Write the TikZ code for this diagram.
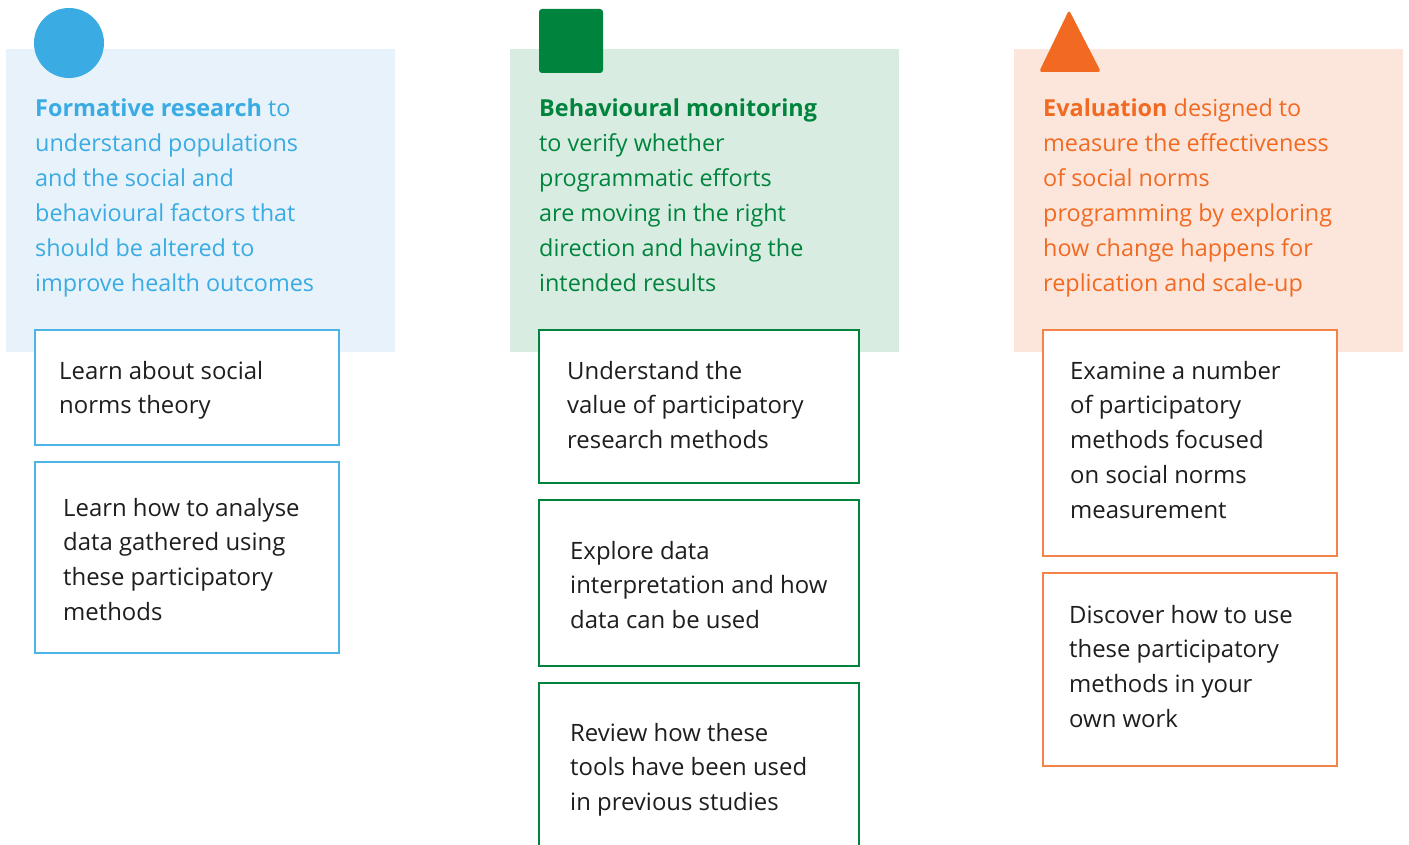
\documentclass[tikz,border=0pt]{standalone}
\usepackage{fontspec}
\setmainfont{Open Sans}
\definecolor{cblue}{HTML}{3AACE3}
\definecolor{cbluebg}{HTML}{E7F2FB}
\definecolor{cblueline}{HTML}{4DB4E6}
\definecolor{cgreen}{HTML}{00843D}
\definecolor{cgreenbg}{HTML}{D9ECE1}
\definecolor{corange}{HTML}{F26A21}
\definecolor{corangebg}{HTML}{FCE6DC}
\definecolor{corangeline}{HTML}{F4834A}
\definecolor{ctext}{HTML}{1E1E1E}
\tikzset{
  panel/.style={inner sep=0pt, outer sep=0pt, anchor=north west, minimum width=389pt, minimum height=303pt},
  itembox/.style={draw, fill=white, line width=1.3pt, inner sep=0pt, outer sep=0pt, anchor=north west},
  head/.style={anchor=base west, inner sep=0pt, font=\fontsize{23.4}{28}\selectfont},
  body/.style={anchor=base west, inner sep=0pt, text=ctext, font=\fontsize{23.9}{28}\selectfont},
}
\newcommand\txtlines[5]{%
  \foreach \t [count=\i from 0] in {#5} {\node[#4] (#1-\i) at (#2, #3+\i*34.8) {\t};}}
\begin{document}
\begin{tikzpicture}[x=1pt, y=-1pt]
\useasboundingbox (0,0) rectangle (1409,845);
\clip (0,0) rectangle (1409,845);
% panels
\node[panel, fill=cbluebg] (pA) at (6,49) {};
\node[panel, fill=cgreenbg] (pB) at (510,49) {};
\node[panel, fill=corangebg] (pC) at (1014,49) {};
% icons
\fill[cblue] (69,43) circle (35);
\fill[cgreen, rounded corners=3pt] (539,9) rectangle (603,73);
\fill[corange, rounded corners=3pt] (1069,10) -- (1101,72) -- (1039,72) -- cycle;
% headings
\txtlines{hA}{35}{117}{head, text=cblue}{{\textbf{Formative research} to},understand populations,and the social and,behavioural factors that,should be altered to,improve health outcomes}
\txtlines{hB}{539}{117}{head, text=cgreen}{{\textbf{Behavioural monitoring}},to verify whether,programmatic efforts,are moving in the right,direction and having the,intended results}
\txtlines{hC}{1043}{117}{head, text=corange}{{\textbf{Evaluation} designed to},measure the effectiveness,of social norms,programming by exploring,how change happens for,replication and scale-up}
% boxes column A
\node[itembox, draw=cblueline, minimum width=304pt, minimum height=115pt] (a1) at (35,330) {};
\node[itembox, draw=cblueline, minimum width=304pt, minimum height=191pt] (a2) at (35,462) {};
% boxes column B
\node[itembox, draw=cgreen, minimum width=320pt, minimum height=153pt] (b1) at (539,330) {};
\node[itembox, draw=cgreen, minimum width=320pt, minimum height=166pt] (b2) at (539,500) {};
\node[itembox, draw=cgreen, minimum width=320pt, minimum height=200pt] (b3) at (539,683) {};
% boxes column C
\node[itembox, draw=corangeline, minimum width=294pt, minimum height=226pt] (c1) at (1043,330) {};
\node[itembox, draw=corangeline, minimum width=294pt, minimum height=193pt] (c2) at (1043,573) {};
% box texts
\txtlines{ta1}{59}{379}{body}{Learn about social,norms theory}
\txtlines{ta2}{63}{516}{body}{Learn how to analyse,data gathered using,these participatory,methods}
\txtlines{tb1}{567}{379}{body}{Understand the,value of participatory,research methods}
\txtlines{tb2}{570}{559}{body}{Explore data,interpretation and how,data can be used}
\txtlines{tb3}{570}{741}{body}{Review how these,tools have been used,in previous studies}
\txtlines{tc1}{1070}{379}{body}{Examine a number,of participatory,methods focused,on social norms,measurement}
\txtlines{tc2}{1069}{623}{body}{Discover how to use,these participatory,methods in your,own work}
\end{tikzpicture}
\end{document}
